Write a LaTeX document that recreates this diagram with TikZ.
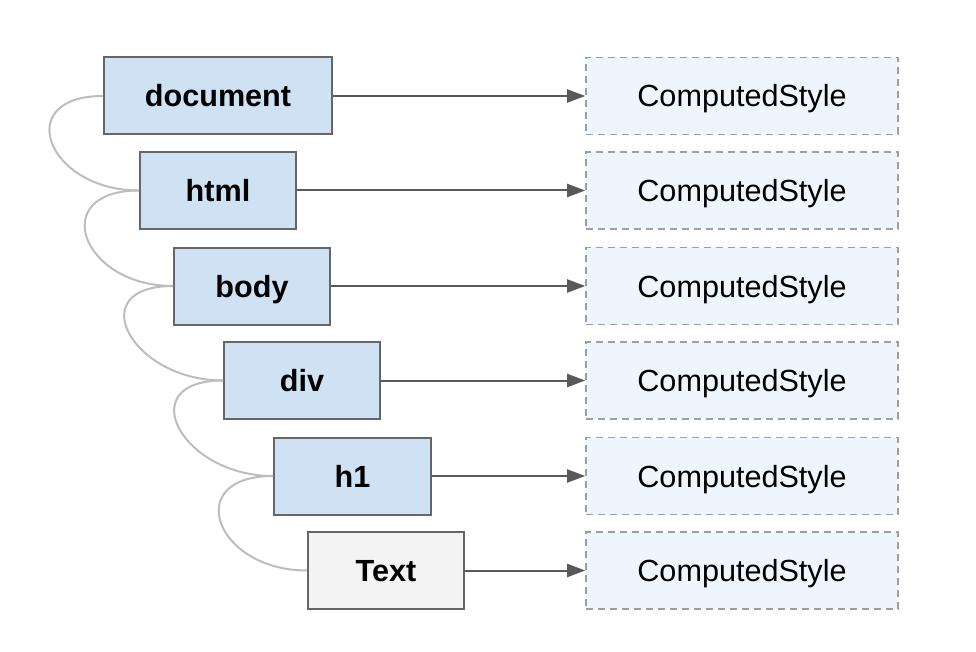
\documentclass[tikz,border=0pt]{standalone}
\usepackage{fontspec}
\setmainfont{Liberation Sans}
\usetikzlibrary{arrows.meta}
\definecolor{nodeblue}{HTML}{CFE2F3}
\definecolor{nodegray}{HTML}{F3F3F3}
\definecolor{stylefill}{HTML}{EEF5FD}
\definecolor{bordergray}{HTML}{666666}
\definecolor{dashgray}{HTML}{9E9E9E}
\definecolor{arrowgray}{HTML}{595959}
\definecolor{curvegray}{HTML}{BDBDBD}
\tikzset{
  elem/.style={draw=bordergray, line width=2pt, fill=nodeblue, inner sep=0pt,
    minimum height=77pt, text height=22pt, text depth=0pt,
    font=\fontsize{30.6}{36}\selectfont\bfseries},
  textelem/.style={elem, fill=nodegray},
  stylebox/.style={draw=dashgray, line width=1.6pt, dash pattern=on 7pt off 5pt,
    fill=stylefill, inner sep=0pt, minimum width=312pt, minimum height=77pt,
    text height=22pt, text depth=0pt,
    font=\fontsize{30.6}{36}\selectfont},
  link/.style={draw=arrowgray, line width=2pt, -{Triangle[length=18pt,width=13pt]}},
  tree/.style={draw=curvegray, line width=2pt}
}
\begin{document}
\begin{tikzpicture}[x=1pt,y=-1pt]
\useasboundingbox (0,0) rectangle (976,652);
\node[elem, minimum width=228pt] (doc) at (218,96) {document};
\node[elem, minimum width=156pt] (html) at (218,190.5) {html};
\node[elem, minimum width=156pt] (body) at (252,286) {body};
\node[elem, minimum width=156pt] (div) at (302,380.5) {div};
\node[elem, minimum width=157pt] (h1) at (352.5,476) {h1};
\node[textelem, minimum width=156pt] (txt) at (386,570.5) {Text};
\node[stylebox] (s1) at (742,96) {ComputedStyle};
\node[stylebox] (s2) at (742,190.5) {ComputedStyle};
\node[stylebox] (s3) at (742,286) {ComputedStyle};
\node[stylebox] (s4) at (742,380.5) {ComputedStyle};
\node[stylebox] (s5) at (742,476) {ComputedStyle};
\node[stylebox] (s6) at (742,570.5) {ComputedStyle};
\foreach \a/\b in {doc/s1,html/s2,body/s3,div/s4,h1/s5,txt/s6}
  \draw[link] (\a.east) -- (\b.west);
\foreach \a/\b in {doc/html,html/body,body/div,div/h1,h1/txt}
  \draw[tree] (\a.west) .. controls +(-92,0) and +(-92,0) .. (\b.west);
\end{tikzpicture}
\end{document}
